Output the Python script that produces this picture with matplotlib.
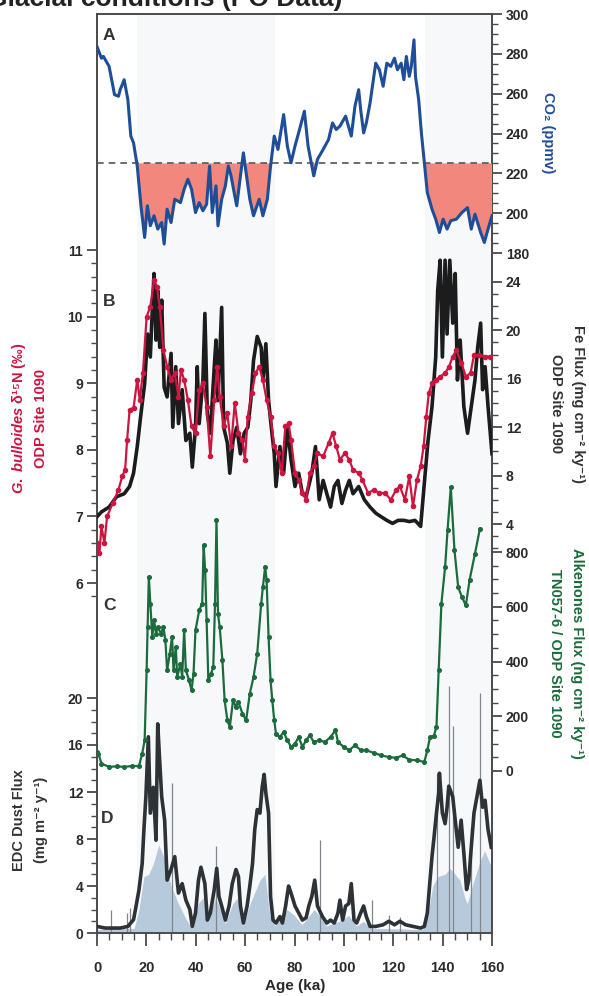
import numpy as np
import matplotlib
matplotlib.use("Agg")
import matplotlib.pyplot as plt
from matplotlib.ticker import FixedLocator, MultipleLocator

plt.rcParams['font.family'] = ['Liberation Sans', 'DejaVu Sans']
plt.rcParams['font.weight'] = 'bold'
plt.rcParams['mathtext.fontset'] = 'custom'
plt.rcParams['mathtext.it'] = 'Liberation Sans:italic:bold'
plt.rcParams['mathtext.rm'] = 'Liberation Sans:bold'

# ---------------- data ----------------
co2_age = [0, 1.8, 2.6, 4.9, 7.1, 8.7, 9.4, 11, 12.5, 13.7, 14.8, 16.3, 17.8, 19.3, 20.4, 21.6, 23.1, 24.6,
           26.2, 27.2, 28.4, 30, 31.5, 33.8, 35.3, 36.8, 38.3, 39.9, 41.4, 42.9, 44.4, 45.6, 46.7, 48.2,
           49, 50.5, 52, 53.2, 54.3, 55.8, 56.6, 58.1, 59.3, 60.4, 61.9, 63.4, 65.7, 67.2, 69, 70.3,
           71.8, 73.3, 75.6, 77.1, 78.6, 80.2, 82.4, 84, 85.5, 87.8, 89.3, 91.6, 93.8, 95.4, 96.9, 98.4,
           100.7, 103, 104.5, 106, 106.8, 108, 109.1, 110.6, 112.9, 114.4, 115.9, 117.4, 119, 120.5,
           121.7, 123.2, 124.3, 125.3, 126.5, 127.3, 128.4, 129, 130.3, 131.4, 132.6, 133.8, 135.7,
           137.2, 138.7, 140.2, 141.8, 143.3, 145.6, 147.8, 150.1, 151.6, 153.1, 155.4, 156.9, 158.4, 160]
co2_ppmv = [283.7, 277.8, 278.7, 273.7, 259.5, 258.7, 262, 267, 257, 238.7, 235.3, 223.7, 203.7, 187.8,
            203.7, 193.7, 198.7, 192, 195.3, 184.5, 202, 195.3, 207, 205.3, 212, 217, 212, 200.3, 205.3,
            201.2, 204.5, 223.7, 200.3, 213.7, 193.7, 207, 213.7, 223.7, 218.7, 208.7, 203.7, 218.7,
            230.3, 220.3, 207, 198.7, 207, 198.7, 207, 223.7, 238.7, 232, 249.5, 233.7, 225.3, 233.7,
            243.7, 251.2, 233.7, 218.7, 227, 232, 237, 245.3, 242, 243.7, 248.7, 238.7, 253.7, 262,
            252, 240.3, 245.3, 255.3, 275.3, 272, 263.7, 275.3, 273.7, 277.8, 272, 275.3, 267, 278.7,
            268.7, 273.7, 287, 268.7, 257, 240.3, 225.3, 210.3, 202, 197, 190.3, 197, 192, 196.2, 197,
            200.3, 202.8, 192, 199.5, 190.3, 185.3, 192, 198.7]
co2_threshold = 225

d15n_age = [0, 1, 1.8, 3, 4.1, 6.4, 8.7, 10.2, 11.4, 12.2, 13.2, 14.8, 16.3, 17.3, 18.6, 20.1, 21.6, 23.1,
            24.3, 25.4, 26.9, 28.4, 30, 31.5, 33, 34, 35.3, 36.8, 38.3, 39.9, 41.4, 42.9, 44.4, 45.9,
            47.5, 48.7, 49.7, 51.3, 52.8, 54.3, 55.8, 57.3, 58.9, 59.9, 61.1, 62.7, 64.2, 65.7, 67.2,
            68.7, 70.3, 71.8, 73.3, 74.8, 76.3, 77.6, 78.6, 80.2, 81.7, 83.2, 84.7, 86.2, 87.8, 89.3,
            91.6, 93.8, 95.4, 96.9, 98.4, 100.4, 102.2, 103.7, 106, 107.5, 109.8, 112.1, 114.4, 116.7,
            119, 121.2, 122.7, 124.7, 126.5, 128, 129.6, 131.1, 132.3, 133.4, 134.4, 135.7, 137.2, 139,
            141, 142.6, 144.1, 145.6, 147.6, 149.4, 151.3, 152.7, 154.7, 157, 159.3]
d15n_permil = [6.6, 6.45, 6.85, 6.6, 7.0, 7.2, 7.4, 7.6, 7.7, 8.15, 8.6, 8.63, 9.05, 8.75, 9.15, 10.0, 10.15,
               10.55, 10.45, 10.15, 9.5, 9.25, 9.05, 9.15, 8.8, 9.2, 9.05, 8.75, 8.35, 8.25, 8.9, 9.0,
               8.65, 7.9, 8.75, 9.25, 8.8, 8.35, 8.55, 8.05, 8.7, 8.25, 8.15, 7.85, 8.5, 8.85, 9.15,
               9.25, 9.05, 8.75, 8.5, 8.05, 7.95, 7.65, 8.35, 8.4, 8.15, 7.65, 7.55, 7.35, 7.25, 7.65,
               7.75, 7.95, 7.9, 8.1, 8.25, 8.05, 7.85, 7.95, 7.85, 7.7, 7.65, 7.55, 7.35, 7.4, 7.35,
               7.35, 7.25, 7.4, 7.45, 7.25, 7.6, 7.15, 7.55, 7.75, 8.05, 8.5, 8.85, 9.0, 9.05, 9.1, 9.15,
               9.25, 9.4, 9.5, 9.3, 9.1, 9.15, 9.42, 9.42, 9.4, 9.4]

fe_age = [0, 1.8, 4.9, 7.9, 11, 13.2, 14.8, 16.3, 17.8, 19.3, 20.5, 21.6, 22.4, 23.1, 23.9, 24.6, 25.4,
          26.2, 27.2, 28.4, 30, 30.7, 31.9, 33, 34.5, 36, 37.6, 38.6, 39.9, 40.6, 41.4, 42.9, 43.7,
          44.7, 45.9, 47.5, 48.2, 49, 50.5, 51.3, 52.8, 53.8, 55.1, 56.6, 58.1, 59.6, 61.1, 62.3,
          63.4, 64.9, 66.5, 67.2, 68.4, 69.5, 70.6, 71.8, 72.5, 74.1, 75.6, 77.1, 78.6, 80.2, 81.7,
          83.2, 84.7, 87, 88.5, 90, 91.6, 93.1, 94.6, 96.1, 97.6, 99.2, 100.7, 102.2, 103.7, 106,
          108.3, 110.6, 112.9, 115.1, 117.4, 119.7, 122, 124.3, 126.5, 128.8, 131.1, 132.6, 134.1,
          135.7, 137.2, 138, 139, 139.9, 141, 141.8, 142.9, 144.1, 145.1, 146, 147.1, 148.6, 150.1,
          151.6, 153.1, 154.2, 155.4, 156.2, 157.2, 158.4, 160]
fe_flux = [4.6, 5.0, 5.4, 6.25, 6.5, 7.1, 8.2, 10.4, 13.1, 15.6, 19.7, 17.8, 21.7, 24.7, 19.2, 23.3, 18.6,
           22.5, 15.3, 14.5, 18.1, 12.0, 17.0, 12.3, 15.1, 10.9, 11.5, 8.7, 12.0, 17.0, 12.3, 15.9, 21.4,
           13.1, 11.5, 17.0, 19.2, 14.2, 21.9, 12.0, 10.7, 8.2, 10.9, 12.0, 9.8, 11.5, 12.0, 14.2, 17.5,
           19.5, 18.6, 15.9, 18.9, 14.2, 12.0, 9.8, 7.1, 10.4, 8.2, 12.0, 9.3, 7.1, 8.2, 6.5, 6.25, 8.2,
           10.4, 6.0, 7.6, 6.5, 5.4, 7.1, 7.6, 5.7, 6.8, 7.6, 6.5, 7.1, 6.0, 5.4, 4.9, 4.6, 4.3, 4.05,
           4.3, 4.3, 4.2, 4.3, 3.8, 7.4, 10.9, 13.7, 17.8, 23.3, 25.8, 17.8, 25.8, 19.7, 25.8, 20.6, 24.7,
           15.9, 19.2, 13.7, 11.5, 13.7, 15.9, 18.6, 20.6, 15.1, 17.0, 13.7, 9.8]

alk_age = [0, 0.6, 1.8, 4.9, 7.9, 11, 14, 17, 18.3, 19.3, 20.1, 20.5, 21, 21.6, 22.4, 23.1, 23.9, 24.6,
           25.9, 26.9, 27.7, 28.4, 29.5, 30.4, 31, 31.9, 32.5, 33.8, 34.5, 35.3, 36, 37.3, 38.3, 39.1,
           39.9, 41.4, 42.6, 43.2, 43.8, 44.4, 45.1, 46.2, 47.1, 47.8, 48.4, 49, 49.7, 50.8, 51.7, 52.8,
           53.8, 55.1, 56.3, 57.3, 58.9, 60.4, 61.9, 63.4, 64.9, 66.5, 67.2, 68.1, 68.7, 69.5, 70.3, 71,
           71.8, 72.5, 74.1, 75.6, 77.1, 78.6, 80.2, 81.7, 83.2, 84.7, 86.2, 87.8, 90, 92.3, 94.6, 96.6,
           97.6, 99.9, 102.2, 104.5, 106.8, 109.1, 112.1, 115.1, 118.2, 121.2, 123.8, 126.5, 129.6,
           132.6, 133.8, 134.9, 136.4, 137.5, 138.4, 139.5, 141, 142, 143.3, 144.8, 146.3, 147.8,
           149.4, 150.9, 153.1, 155.1]
alk_flux = [69, 63, 27, 15, 17, 15, 18, 18, 63, 112, 368, 526, 709, 611, 490, 550, 502, 526, 502, 526,
            477, 368, 429, 490, 368, 453, 343, 392, 343, 514, 368, 331, 295, 356, 514, 587, 611, 825,
            733, 550, 331, 356, 380, 611, 916, 575, 526, 404, 258, 185, 161, 258, 234, 252, 210, 185,
            283, 343, 429, 611, 672, 745, 697, 490, 331, 258, 185, 136, 124, 143, 112, 88, 100, 124, 88,
            112, 130, 106, 112, 106, 124, 149, 106, 88, 76, 94, 76, 76, 66, 57, 51, 48, 57, 41, 39, 33,
            76, 124, 127, 161, 368, 611, 745, 880, 1037, 806, 672, 636, 605, 697, 794, 885]

dust_age = [0, 3.3, 6.4, 9.4, 12.5, 14.8, 15.8, 17, 18.3, 19, 19.8, 20.8, 21.6, 22.8, 23.9, 24.6, 25.3,
            26.2, 27.4, 28.4, 30, 31.5, 33, 34.5, 36, 37.6, 38.6, 39.9, 41.1, 42.1, 43.7, 44.7, 45.9,
            47.5, 48.5, 49.4, 50.5, 52, 53.5, 54.8, 56.3, 57.3, 58.1, 59.3, 60.8, 61.9, 63, 63.9, 64.9,
            66, 66.9, 67.7, 68.4, 69.5, 70.3, 71.3, 72.5, 74.1, 75.1, 76.4, 77.6, 78.6, 80.2, 81.7, 83.2,
            84.7, 85.8, 87, 88.2, 89.3, 91.3, 93.1, 94.6, 96.1, 97.6, 98.4, 99.5, 100.7, 102, 103, 104.1,
            105.2, 106.8, 108, 109.1, 110.6, 112.9, 115.9, 118.2, 120.5, 122.7, 125, 128, 131.1, 132.6,
            133.8, 134.9, 135.7, 136.4, 137.5, 138.4, 138.7, 139.9, 141, 141.8, 142.5, 144.1, 145.1,
            146.3, 147.5, 148.6, 149.7, 150.6, 151.6, 152.7, 153.9, 155.1, 156.2, 157.2, 158.4, 159.7]
dust_flux = [0.56, 0.42, 0.42, 0.42, 0.56, 1.13, 2.26, 3.67, 5.9, 8.8, 11.6, 16.7, 10.2, 12.4, 7.9, 17.8,
             15.0, 11.6, 9.6, 4.5, 5.4, 6.5, 3.4, 4.2, 2.8, 2.0, 0.56, 1.7, 4.5, 5.6, 4.2, 1.1, 1.7, 3.7,
             5.5, 3.1, 2.3, 1.1, 2.3, 4.2, 5.4, 4.8, 2.3, 0.85, 2.3, 4.0, 5.9, 8.8, 10.5, 10.2, 12.4,
             13.5, 11.9, 10.2, 3.1, 1.1, 0.85, 1.4, 0.85, 2.3, 4.0, 3.4, 2.3, 1.7, 1.1, 1.3, 2.3, 3.1,
             4.5, 2.3, 1.4, 0.85, 1.1, 0.85, 1.7, 2.8, 1.1, 2.3, 2.5, 4.2, 1.1, 0.85, 1.7, 2.3, 1.4,
             0.56, 0.56, 0.7, 1.0, 0.7, 1.0, 0.7, 0.56, 0.42, 0.56, 1.7, 4.5, 6.5, 7.9, 10.2, 11.9, 13.6,
             10.2, 9.3, 10.7, 12.5, 11.6, 9.6, 7.3, 9.6, 6.8, 3.7, 4.5, 7.3, 10.2, 11.6, 13.0, 10.7,
             11.3, 8.8, 7.3]

dust_spike_age = [5.8, 12.3, 13.4, 30.4, 48.4, 90.3, 111.3, 118.2, 122.7, 137.9, 142.6, 144.2, 151.6, 155.2]
dust_spike_val = [2.0, 1.7, 2.1, 12.8, 7.4, 7.9, 2.8, 1.5, 1.4, 13.5, 21.0, 17.6, 9.0, 20.4]

dust_fill_age = [0, 15, 17, 19, 21, 23, 25, 27, 30, 33, 36, 38.5, 41, 43, 45, 48, 50, 52, 55, 57, 59, 62,
                 64, 66, 68, 70, 72, 77, 80, 83, 88, 90, 93, 98, 102, 105, 108, 111, 132, 134, 136, 138,
                 141, 143, 145, 147, 149, 150, 152, 155, 157, 159, 160]
dust_fill_val = [0.3, 0.4, 2.0, 4.8, 5.0, 6.0, 7.5, 6.5, 4.0, 2.5, 1.2, 0.4, 2.5, 3.0, 1.0, 3.0, 2.0, 0.8,
                 2.5, 3.0, 0.6, 2.5, 3.5, 4.5, 5.0, 1.5, 0.6, 2.0, 1.5, 0.7, 2.0, 1.5, 0.6, 1.0, 1.5, 0.6,
                 1.0, 0.4, 0.3, 1.5, 4.0, 4.8, 5.0, 5.5, 5.0, 4.5, 3.0, 2.5, 4.0, 6.0, 7.0, 6.0, 5.5]

x_ticks = [0, 20, 40, 60, 80, 100, 120, 140, 160]
co2_ticks = [180, 200, 220, 240, 260, 280, 300]
d15n_ticks = [6, 7, 8, 9, 10, 11]
fe_ticks = [4, 8, 12, 16, 20, 24]
alk_ticks = [0, 200, 400, 600, 800]
dust_ticks = [0, 4, 8, 12, 16, 20]

# ---------------- layout ----------------
W, H = 589, 996
TOP, BOT, LEFT, RIGHT = 14, 933, 97, 492

def ylims(v1, p1, v2, p2):
    k = (v1 - v2) / (p2 - p1)
    return v1 - (BOT - p1) * k, v1 + (p1 - TOP) * k

fig = plt.figure(figsize=(W / 100, H / 100), dpi=100)
ax = fig.add_axes([LEFT / W, 1 - BOT / H, (RIGHT - LEFT) / W, (BOT - TOP) / H])

AXC = '#4a4a4a'
TXT = '#2a2a2a'
for s in ax.spines.values():
    s.set_color(AXC)
    s.set_linewidth(1.4)

ax.set_xlim(0, 160)
ax.set_ylim(*ylims(20, 698, 0, 933))

# very faint background bands
for a0, a1 in [(16, 72), (133, 160)]:
    ax.axvspan(a0, a1, color='#f7f8fa', zorder=0, lw=0)

def style_ticks(axis, side):
    axis.tick_params(axis='y', which='major', length=7, width=1.3, color=AXC, labelsize=10,
                     labelcolor=TXT, pad=3, left=(side == 'left'), right=(side == 'right'),
                     labelleft=(side == 'left'), labelright=(side == 'right'))
    axis.tick_params(axis='y', which='minor', length=4, width=1.0, color=AXC,
                     left=(side == 'left'), right=(side == 'right'))

# Dust axis (main, left)
ax.yaxis.set_major_locator(FixedLocator(dust_ticks))
ax.yaxis.set_minor_locator(FixedLocator(np.arange(0, 21, 1)))
style_ticks(ax, 'left')
ax.xaxis.set_major_locator(FixedLocator(x_ticks))
ax.xaxis.set_minor_locator(MultipleLocator(5))
ax.tick_params(axis='x', which='major', length=9, width=1.3, color=AXC, labelsize=10.5,
               labelcolor=TXT, pad=11, top=False)
ax.tick_params(axis='x', which='minor', length=5, width=1.0, color=AXC, top=False)
for lab in ax.get_xticklabels() + ax.get_yticklabels():
    lab.set_fontweight('bold')

ax.fill_between(dust_fill_age, dust_fill_val, 0, color='#b7cadb', lw=0, zorder=1)
ax.vlines(dust_spike_age, 0, dust_spike_val, color='#80868c', lw=0.9, zorder=2)
ax.plot(dust_age, dust_flux, color='#2c3236', lw=2.6, zorder=3)

def twin(side):
    t = ax.twinx()
    t.set_xlim(0, 160)
    for s in t.spines.values():
        s.set_visible(False)
    t.patch.set_visible(False)
    if side == 'left':
        t.yaxis.set_ticks_position('left')
        t.yaxis.set_label_position('left')
    style_ticks(t, side)
    return t

# CO2
a_co2 = twin('right')
a_co2.set_ylim(*ylims(300, 14, 180, 253))
a_co2.yaxis.set_major_locator(FixedLocator(co2_ticks))
a_co2.yaxis.set_minor_locator(FixedLocator(np.arange(180, 301, 5)))
co2_arr = np.array(co2_ppmv)
a_co2.fill_between(co2_age, co2_arr, co2_threshold, where=co2_arr < co2_threshold,
                   interpolate=True, color='#f2877d', lw=0, zorder=1)
a_co2.axhline(co2_threshold, color='#555555', lw=1.2, ls=(0, (4, 3)), zorder=2)
a_co2.plot(co2_age, co2_ppmv, color='#1f4e98', lw=2.2, zorder=3)

# Fe flux
a_fe = twin('right')
a_fe.set_ylim(*ylims(24, 282, 4, 524))
a_fe.yaxis.set_major_locator(FixedLocator(fe_ticks))
a_fe.yaxis.set_minor_locator(FixedLocator(np.arange(2, 25, 1)))
a_fe.plot(fe_age, fe_flux, color='#1c1c1c', lw=2.6, zorder=3)

# d15N
a_n = twin('left')
a_n.set_ylim(*ylims(11, 250, 6, 583))
a_n.yaxis.set_major_locator(FixedLocator(d15n_ticks))
a_n.yaxis.set_minor_locator(FixedLocator(np.arange(5.8, 11.01, 0.2)))
a_n.plot(d15n_age, d15n_permil, color='#cc1540', lw=1.6, marker='o', ms=3.0,
         mec='#cc1540', mfc='#cc1540', zorder=4)

# Alkenones
a_alk = twin('right')
a_alk.set_ylim(*ylims(800, 552, 0, 771))
a_alk.yaxis.set_major_locator(FixedLocator(alk_ticks))
a_alk.yaxis.set_minor_locator(FixedLocator(np.arange(0, 801, 50)))
a_alk.plot(alk_age, alk_flux, color='#1b6b3c', lw=1.6, marker='o', ms=2.6,
           mec='#1b6b3c', mfc='#1b6b3c', zorder=3)

for t in (a_co2, a_fe, a_n, a_alk):
    for lab in t.get_yticklabels():
        lab.set_fontweight('bold')

# ---------------- texts ----------------
def ftext(x, y, s, **kw):
    fig.text(x / W, 1 - y / H, s, **kw)

for letter, (x, y) in zip('ABCD', [(103, 36), (103, 301), (103, 606), (101, 818)]):
    ftext(x, y, letter, fontsize=12.5, fontweight='bold', color='#333333', ha='left', va='center')

ftext(548, 133, 'CO\u2082 (ppmv)', rotation=-90, color='#1f4e98', fontsize=10.5,
      fontweight='bold', ha='center', va='center')
ftext(578, 404, 'Fe Flux (mg cm\u207b\u00b2 ky\u207b\u00b9)', rotation=-90, color='#333333',
      fontsize=10.5, fontweight='bold', ha='center', va='center')
ftext(556, 404, 'ODP Site 1090', rotation=-90, color='#333333',
      fontsize=10.5, fontweight='bold', ha='center', va='center')
ftext(577, 653, 'Alkenones Flux (ng cm\u207b\u00b2 ky\u207b\u00b9)', rotation=-90, color='#1b6b3c',
      fontsize=10.5, fontweight='bold', ha='center', va='center')
ftext(555, 653, 'TN057-6 / ODP Site 1090', rotation=-90, color='#1b6b3c',
      fontsize=10.5, fontweight='bold', ha='center', va='center')

ftext(19, 418, r'$\it{G.\ bulloides}$' + ' \u03b4\u00b9\u2075N (\u2030)', rotation=90, color='#cc1540',
      fontsize=10.5, fontweight='bold', ha='center', va='center')
ftext(41, 418, 'ODP Site 1090', rotation=90, color='#cc1540',
      fontsize=10.5, fontweight='bold', ha='center', va='center')
ftext(19, 820, 'EDC Dust Flux', rotation=90, color='#333333',
      fontsize=10.5, fontweight='bold', ha='center', va='center')
ftext(41, 820, '(mg m\u207b\u00b2 y\u207b\u00b9)', rotation=90, color='#333333',
      fontsize=10.5, fontweight='bold', ha='center', va='center')

ftext(295, 986, 'Age (ka)', fontsize=11, fontweight='bold', color=TXT, ha='center', va='center')

ftext(342, 6, 'Glacial conditions (PO Data)', fontsize=19, fontweight='bold', color='#222222',
      ha='right', va='baseline')

fig.savefig('out.png', dpi=100)
